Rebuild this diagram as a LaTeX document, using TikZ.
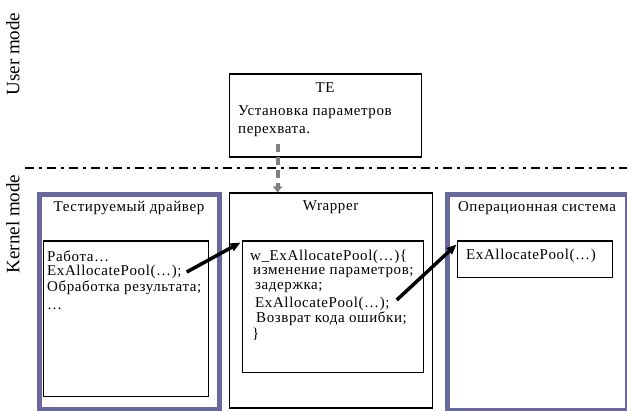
\documentclass[tikz,border=0pt]{standalone}
\usepackage{fontspec}
\setmainfont{Liberation Serif}
\newfontfamily\tekst{Liberation Serif}[LetterSpace=4]
\usetikzlibrary{arrows.meta}
\definecolor{sinij}{RGB}{104,104,158}
\tikzset{
  blok/.style={draw, line width=1.2pt, anchor=north west, inner sep=0pt},
  sistema/.style={draw=sinij, line width=5pt, anchor=north west, inner sep=0pt},
  stroka/.style={anchor=west, inner sep=0pt, font=\tekst\fontsize{15}{15}\selectfont},
  zagolovok/.style={inner sep=0pt, font=\tekst\fontsize{15}{15}\selectfont},
  rezhim/.style={rotate=90, inner sep=0pt, font=\fontsize{19}{19}\selectfont},
  vyzov/.style={line width=3.5pt, -{Triangle[length=10pt,width=8pt]}},
  nastrojka/.style={draw=gray, line width=4pt, dash pattern=on 8pt off 5pt,
    -{Triangle[length=6pt,width=9pt]}},
}
\begin{document}
\begin{tikzpicture}[x=1pt,y=-1pt]

        \useasboundingbox (0,0) rectangle (627,411);

        % Режимы
        \node[rezhim] (user) at (13,54) {User mode};
        \node[rezhim] (kernel) at (13,224) {Kernel mode};
        \draw[line width=1.2pt, dash pattern=on 9pt off 5pt on 3pt off 5pt] (25,168) -- (627,168);

        % TE (user mode)
        \node[blok, minimum width=192, minimum height=83] (te) at (228.5,73.5) {};
        \node[zagolovok] (tetitle) at ([yshift=-14.5pt]te.north) {TE};
        \node[stroka] (te1) at (238,112) {Установка параметров};
        \node[stroka] (te2) at (238,132) {перехвата.};

        % Тестируемый драйвер
        \node[sistema, minimum width=180, minimum height=215] (drv) at (36.5,192.5) {};
        \node[zagolovok] (drvtitle) at ([yshift=-15.5pt]drv.north) {Тестируемый драйвер};
        \node[blok, minimum width=165.5, minimum height=155.5] (drvin) at (42.5,240.5) {};
        \node[stroka] (drv1) at (47,256) {Работа\dots};
        \node[stroka] (drvcall) at (47,272) {ExAllocatePool(\dots);};
        \node[stroka] (drv3) at (47,288) {Обработка результата;};
        \node[stroka] (drv4) at (47,309) {\dots};

        % Wrapper
        \node[blok, minimum width=203, minimum height=215] (wrap) at (228.5,192.5) {};
        \node[zagolovok] (wraptitle) at ([yshift=-14.5pt]wrap.north) {Wrapper};
        \node[blok, minimum width=181.5, minimum height=131.5] (wrapin) at (241.5,240.5) {};
        \node[stroka] (wrap1) at (250,257) {w\_ExAllocatePool(\dots)\{};
        \node[stroka] (wrap2) at (253,273) {изменение параметров;};
        \node[stroka] (wrap3) at (255,288) {задержка;};
        \node[stroka] (wrapcall) at (255,304) {ExAllocatePool(\dots);};
        \node[stroka] (wrap5) at (256,319) {Возврат кода ошибки;};
        \node[stroka] (wrap6) at (252,334) {\}};

        % Операционная система
        \node[sistema, minimum width=180, minimum height=216] (os) at (444.5,192.5) {};
        \node[zagolovok] (ostitle) at ([yshift=-15.5pt]os.north) {Операционная система};
        \node[blok, minimum width=155.5, minimum height=36.5] (osin) at (456.5,240.5) {};
        \node[stroka] (os1) at (466,256) {ExAllocatePool(\dots)};

        % Стрелки
        \draw[nastrojka] ([xshift=-47.5pt,yshift=14pt]te.south) -- ([xshift=-53pt]wrap.north);
        \draw[vyzov] ([xshift=5pt]drvcall.east) -- ([shift={(-1,2)}]wrapin.north west);
        \draw[vyzov] ([xshift=7pt,yshift=4pt]wrapcall.east) -- ([shift={(0,4)}]osin.north west);

        \end{tikzpicture}
\end{document}
